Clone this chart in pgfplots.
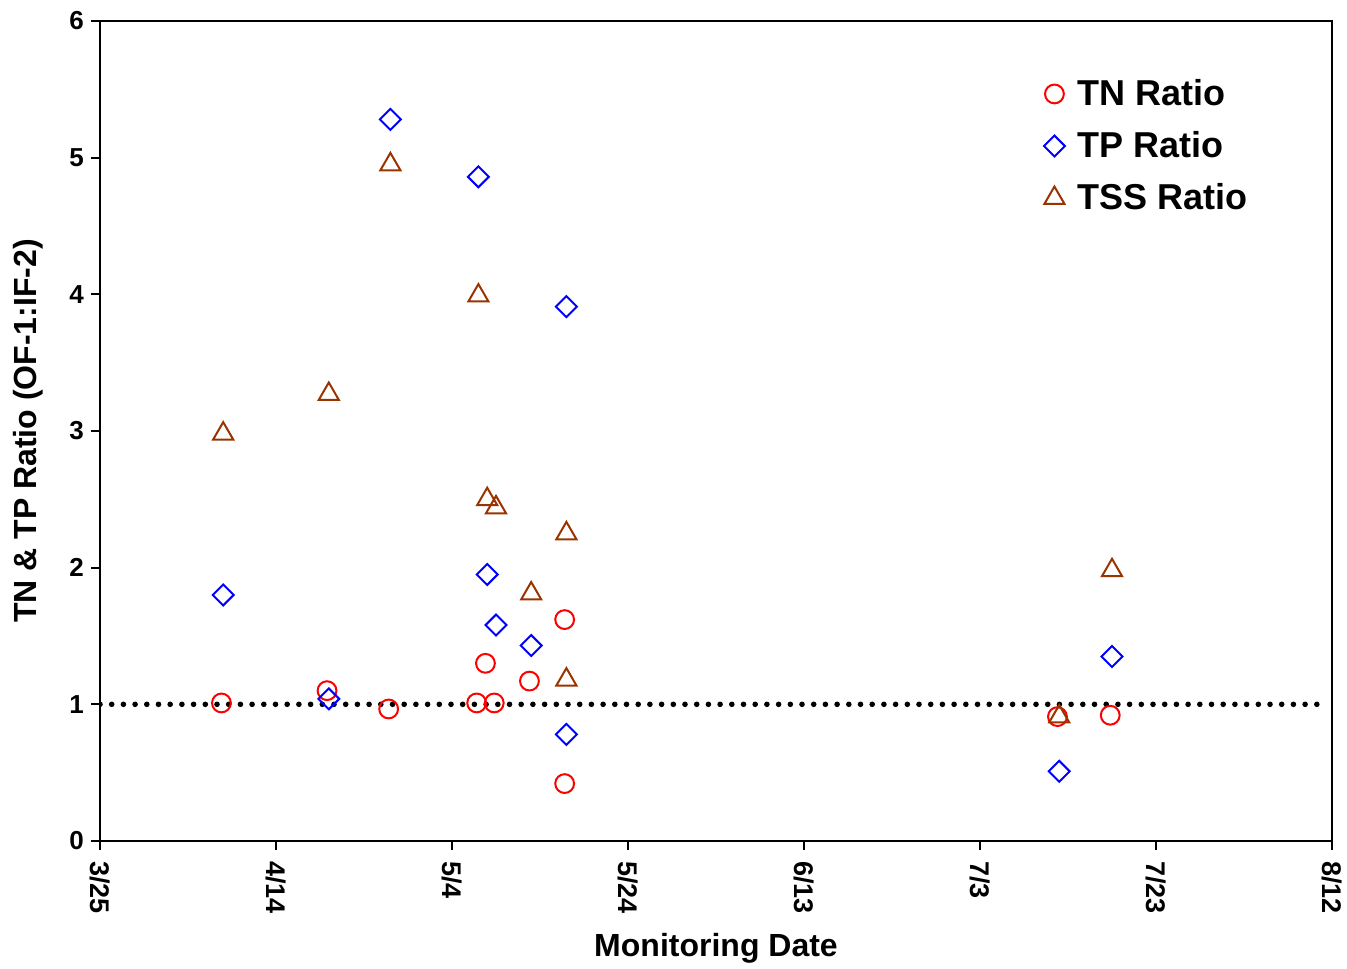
\documentclass[border=0pt]{standalone}
\usepackage{fontspec}
\setmainfont{Liberation Sans}
\usepackage{pgfplots}
\pgfplotsset{compat=1.18}
\definecolor{tssbrown}{RGB}{153,51,0}
\begin{document}
\begin{tikzpicture}
\begin{axis}[
  scale only axis, width=616pt, height=410pt,
  xmin=0, xmax=140, ymin=0, ymax=6,
  xtick={0,20,...,140},
  xticklabels={3/25,4/14,5/4,5/24,6/13,7/3,7/23,8/12},
  ytick={0,1,...,6},
  xtick pos=bottom, ytick pos=left,
  tick align=outside, major tick length=4.5pt,
  axis line style={line width=1pt},
  every tick/.style={line width=1pt, black},
  /pgf/number format/assume math mode=true,
  xticklabel style={rotate=-90, anchor=west, xshift=2pt, font=\bfseries\fontsize{13.5}{13.5}\selectfont},
  yticklabel style={font=\bfseries\fontsize{13}{13}\selectfont},
  xlabel={Monitoring Date},
  ylabel={TN \& TP Ratio (OF-1:IF-2)},
  xlabel style={at={(axis description cs:0.5,-0.1305)}, anchor=center, font=\bfseries\fontsize{16}{16}\selectfont},
  ylabel style={at={(axis description cs:-0.0584,0.5)}, anchor=center, font=\bfseries\fontsize{16}{16}\selectfont},
  legend style={draw=none, fill=none, at={(axis description cs:0.761,0.939)}, anchor=north west,
    font=\bfseries\fontsize{18}{18}\selectfont, row sep=7.5pt, column sep=4.5pt},
  legend cell align=left,
]
\addplot[red, only marks, mark=o, mark size=4.7pt, mark options={line width=1pt}] coordinates {
(13.8,1.01) (25.8,1.10) (32.8,0.966) (42.8,1.01) (43.8,1.30) (44.8,1.01) (48.8,1.17) (52.8,1.62) (52.8,0.42) (108.8,0.91) (114.8,0.92)
};
\addlegendentry{TN Ratio}
\addplot[blue, only marks, mark=square, mark size=3.7pt, mark options={rotate=45, line width=1pt}] coordinates {
(14,1.80) (26,1.04) (33,5.28) (43,4.86) (44,1.95) (45,1.58) (49,1.43) (53,3.91) (53,0.78) (109,0.51) (115,1.35)
};
\addlegendentry{TP Ratio}
\addplot[tssbrown, only marks, mark=triangle, mark size=5.8pt, mark options={line width=1pt}] coordinates {
(14,2.98) (26,3.27) (33,4.95) (43,3.99) (44,2.50) (45,2.44) (49,1.81) (53,2.25) (53,1.18) (109,0.91) (115,1.98)
};
\addlegendentry{TSS Ratio}
\addplot[black, line width=2.8pt, dash pattern=on 0pt off 5.85pt, line cap=round, forget plot] coordinates {(0,1) (139.5,1)};
\end{axis}
\pgfresetboundingbox
\path[use as bounding box] ([xshift=-50pt,yshift=-64pt]current axis.south west) rectangle ([xshift=7.5pt,yshift=10.5pt]current axis.north east);
\end{tikzpicture}
\end{document}
